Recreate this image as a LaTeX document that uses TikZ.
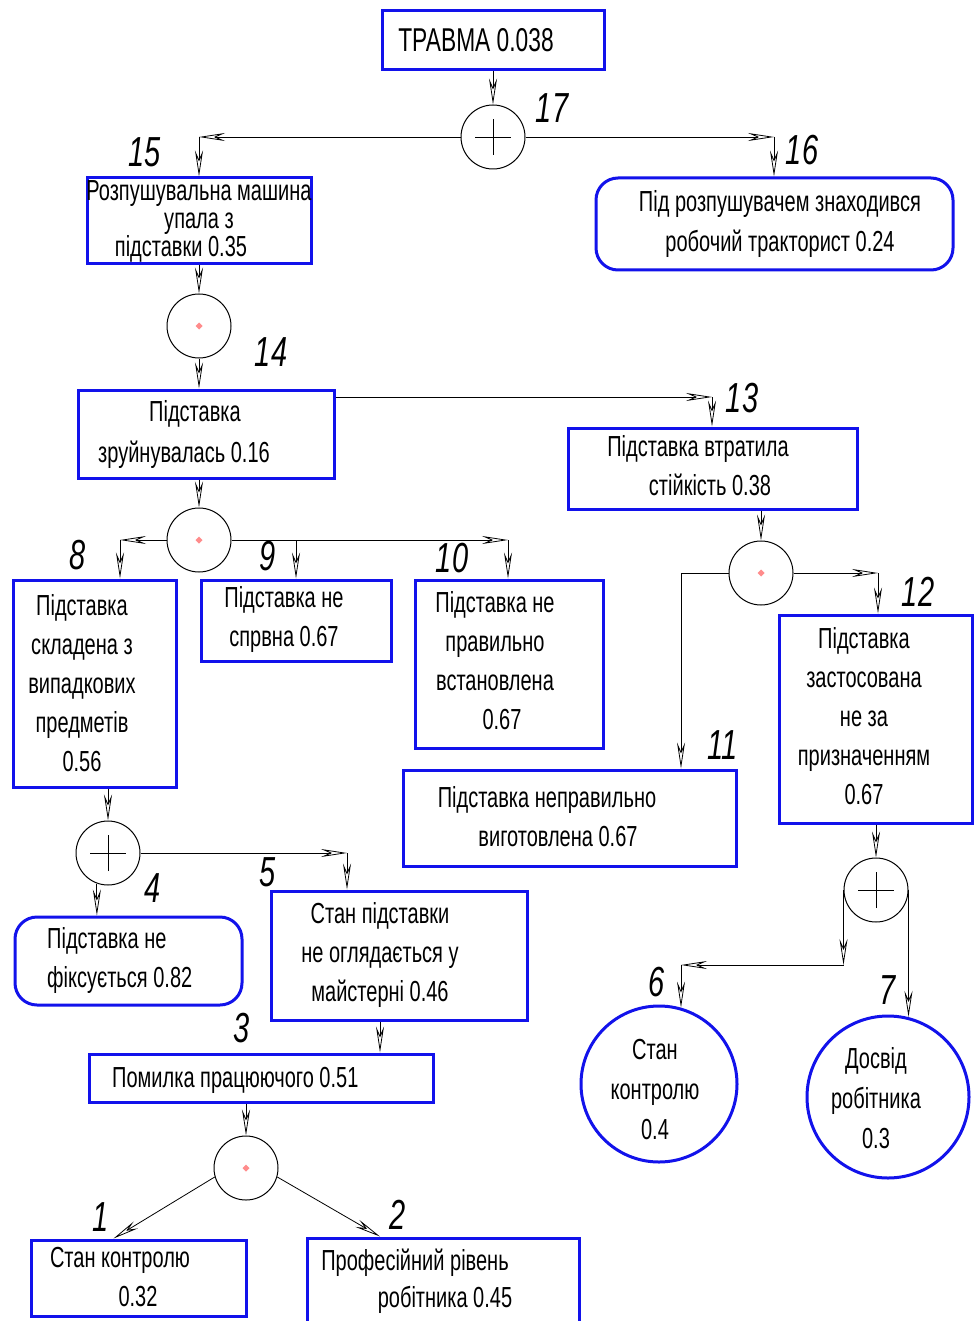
\documentclass[tikz,border=0pt]{standalone}
\usepackage{fontspec}
\newfontfamily\gost{Liberation Sans}[FakeStretch=0.69]
\usetikzlibrary{arrows.meta,calc}
\definecolor{bblue}{RGB}{18,18,235}
\definecolor{dotc}{RGB}{255,140,140}
\tikzset{
 box/.style={draw=bblue, line width=3pt, inner sep=0, rectangle},
 rbox/.style={box, rounded corners=22pt},
 cbox/.style={draw=bblue, line width=3pt, circle, inner sep=0},
 txt/.style={align=center, inner sep=0, font=\gost\fontsize{29}{39}\selectfont},
 num/.style={inner sep=0, font=\gost\itshape\fontsize{42}{42}\selectfont},
 arr/.style={line width=0.8pt, draw=black, -{Stealth[open, length=26pt, width=8pt, inset=9pt]}},
 conn/.style={line width=0.8pt, draw=black},
 gate/.style={circle, draw, line width=1pt, minimum size=64pt, inner sep=0},
 andg/.style={gate, path picture={\fill[dotc] ([yshift=3.5pt]path picture bounding box.center) -- ++(3.5pt,-3.5pt) -- ++(-3.5pt,-3.5pt) -- ++(-3.5pt,3.5pt) -- cycle;}},
 org/.style={gate, path picture={\draw[line width=0.8pt] ([xshift=-18pt]path picture bounding box.center) -- ([xshift=18pt]path picture bounding box.center) ([yshift=-18pt]path picture bounding box.center) -- ([yshift=18pt]path picture bounding box.center);}},
}
\begin{document}
\begin{tikzpicture}[x=1pt,y=-1pt]
\clip (0,0) rectangle (974,1321);
\fill[white] (0,0) rectangle (974,1321);
% boxes
\node[box, minimum width=222pt, minimum height=59pt] (top) at (493,40.5) {};
\node[inner sep=0, font=\gost\fontsize{33}{33}\selectfont] (topt) at (476,40) {ТРАВМА 0.038};
\node[box, minimum width=224pt, minimum height=86pt] (b15) at (199,221) {};
\node[txt, font=\gost\fontsize{29}{28}\selectfont] (t15) at (199,221) {Розпушувальна машина\\упала з\\підставки 0.35\hspace*{36pt}};
\node[rbox, minimum width=357pt, minimum height=92pt] (b16) at (774.5,224) {};
\node[txt, font=\gost\fontsize{29}{40}\selectfont] (t16) at (780,224) {Під розпушувачем знаходився\\робочий тракторист 0.24};
\node[box, minimum width=256pt, minimum height=88pt] (b14) at (206,434) {};
\node[txt, font=\gost\fontsize{29}{41}\selectfont] (t14) at (184,434) {\hspace*{22pt}Підставка\\зруйнувалась 0.16};
\node[box, minimum width=289pt, minimum height=81pt] (b13) at (712.5,468.5) {};
\node[txt] (t13) at (698,466) {Підставка втратила\\\hspace*{24pt}стійкість 0.38};
\node[box, minimum width=163pt, minimum height=207pt] (b8) at (94.5,683.5) {};
\node[txt] (t8) at (82,683) {Підставка\\складена з\\випадкових\\предметів\\0.56};
\node[box, minimum width=190pt, minimum height=81pt] (b9) at (296,620.5) {};
\node[txt] (t9) at (284,619) {Підставка не\\спрвна 0.67};
\node[box, minimum width=188pt, minimum height=168pt] (b10) at (509,664) {};
\node[txt] (t10) at (495,661) {Підставка не\\правильно\\встановлена\\\hspace*{14pt}0.67};
\node[box, minimum width=193pt, minimum height=208pt] (b12) at (875.5,719) {};
\node[txt] (t12) at (864,716) {Підставка\\застосована\\не за\\призначенням\\0.67};
\node[box, minimum width=333pt, minimum height=96pt] (b11) at (569.5,818) {};
\node[txt] (t11) at (547,817) {Підставка неправильно\\\hspace*{22pt}виготовлена 0.67};
\node[rbox, minimum width=227pt, minimum height=88pt] (b4) at (128.5,961) {};
\node[txt, align=left, anchor=west] (t4) at (47,960) {Підставка не\\фіксується 0.82};
\node[box, minimum width=256pt, minimum height=129pt] (b5) at (399,955.5) {};
\node[txt] (t5) at (380,955) {Стан підставки\\не оглядається у\\майстерні 0.46};
\node[box, minimum width=344pt, minimum height=48pt] (b3) at (261,1078) {};
\node[txt, anchor=west] (t3) at (112,1080) {Помилка працюючого 0.51};
\node[box, minimum width=215pt, minimum height=76pt] (b1) at (138.5,1278) {};
\node[txt] (t1) at (120,1277) {Стан контролю\\\hspace*{36pt}0.32};
\node[box, minimum width=272pt, minimum height=92pt] (b2) at (443,1284) {};
\node[txt, font=\gost\fontsize{29}{37}\selectfont] (t2) at (415,1281) {Професійний рівень\\\hspace*{60pt}робітника 0.45};
\node[cbox, minimum size=156pt] (c6) at (659,1084) {};
\node[txt, font=\gost\fontsize{29}{40}\selectfont] (t6) at (655,1090) {Стан\\контролю\\0.4};
\node[cbox, minimum size=162pt] (c7) at (888,1097) {};
\node[txt, font=\gost\fontsize{29}{40}\selectfont] (t7) at (876,1098) {Досвід\\робітника\\0.3};
% gates
\node[org] (g17) at (493,137) {};
\node[andg] (g14) at (199,326) {};
\node[andg] (g8) at (199,540) {};
\node[andg] (g11) at (761,573) {};
\node[org] (g4) at (108,853) {};
\node[org] (g6) at (876,890) {};
\node[andg] (g1) at (246,1168) {};
% numbers
\node[num] (n17) at (552,108) {17};
\node[num] (n15) at (145,152) {15};
\node[num] (n16) at (802,150) {16};
\node[num] (n14) at (271,352) {14};
\node[num] (n13) at (742,398) {13};
\node[num] (n8) at (78,555) {8};
\node[num] (n9) at (268,556) {9};
\node[num] (n10) at (452,558) {10};
\node[num] (n12) at (918,592) {12};
\node[num] (n11) at (723,745) {11};
\node[num] (n4) at (153,888) {4};
\node[num] (n5) at (268,872) {5};
\node[num] (n6) at (657,982) {6};
\node[num] (n7) at (888,990) {7};
\node[num] (n3) at (242,1028) {3};
\node[num] (n1) at (101,1217) {1};
\node[num] (n2) at (398,1215) {2};
% connectors
\coordinate (k15) at (199,137);
\coordinate (k16) at (774,137);
\coordinate (k13) at (712,397);
\coordinate (k8) at (120,540);
\coordinate (k9) at (296,540);
\coordinate (k10) at (508,540);
\coordinate (k11) at (681,573);
\coordinate (k12) at (878,573);
\coordinate (k5) at (347,853);
\coordinate (y965) at (0,965);
\coordinate (k6) at (681,965);
\coordinate (k3) at (380,0);
\draw[arr] (top.south) -- (g17.north);
\draw[arr] (g17.west) -- (k15);
\draw[arr] (k15) -- (b15.north);
\draw[arr] (g17.east) -- (k16);
\draw[arr] (k16) -- (k16 |- b16.north);
\draw[arr] (b15.south) -- (g14.north);
\draw[arr] (g14.south) -- (g14.south |- b14.north);
\draw[arr] (k13 -| b14.east) -- (k13);
\draw[arr] (k13) -- (k13 |- b13.north);
\draw[arr] (g8.north |- b14.south) -- (g8.north);
\draw[arr] (g8.west) -- (k8);
\draw[arr] (k8) -- (k8 |- b8.north);
\draw[arr] (g8.east) -- (k10);
\draw[arr] (k10) -- (k10 |- b10.north);
\draw[arr] (k9) -- (k9 |- b9.north);
\draw[arr] (g11.north |- b13.south) -- (g11.north);
\draw[arr] (g11.west) -- (k11) -- (k11 |- b11.north);
\draw[arr] (g11.east) -- (k12);
\draw[arr] (k12) -- (k12 |- b12.north);
\draw[arr] (g4.north |- b8.south) -- (g4.north);
\draw[arr] (g4.250) -- (g4.250 |- b4.north);
\draw[arr] (g4.east) -- (k5);
\draw[arr] (k5) -- (k5 |- b5.north);
\draw[arr] (g6.north |- b12.south) -- (g6.north);
\draw[arr] (g6.west) -- (g6.west |- y965);
\draw[arr] (g6.west |- y965) -- (k6);
\draw[arr] (k6) -- (k6 |- c6.74);
\draw[arr] (g6.east) -- (g6.east |- c7.76);
\draw[arr] (k3 |- b5.south) -- (k3 |- b3.north);
\draw[arr] (g1.north |- b3.south) -- (g1.north);
\draw[arr] (g1.196) -- ([xshift=-25pt]b1.north);
\draw[arr] (g1.344) -- ([xshift=-63pt]b2.north);
\end{tikzpicture}
\end{document}
